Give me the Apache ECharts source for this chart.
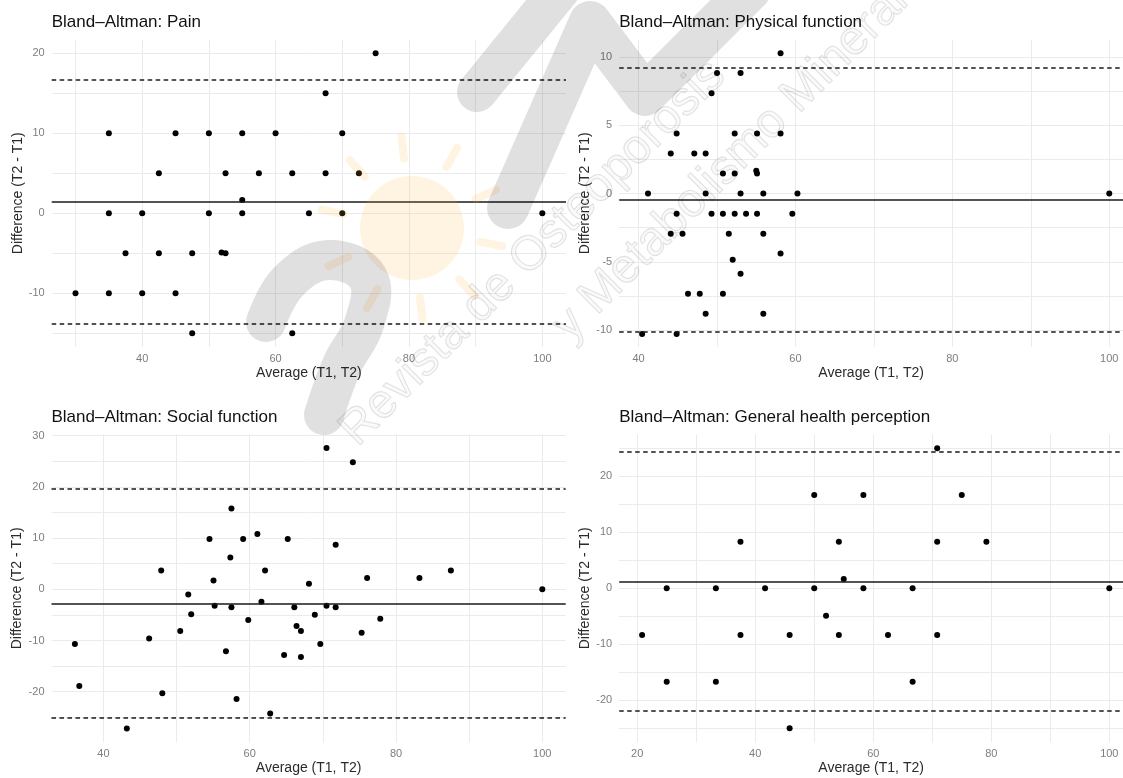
<!DOCTYPE html>
<html>
<head>
<meta charset="utf-8">
<title>Bland–Altman plots</title>
<script src="https://cdn.jsdelivr.net/npm/echarts@6/dist/echarts.min.js"></script>
<style>
  html, body { margin: 0; padding: 0; background: #ffffff; }
  #chart { width: 1123px; height: 778px; }
</style>
</head>
<body>
<div id="chart"></div>
<script>
// ---- Data: average of the two measurements (T1, T2) and their difference (T2 - T1) ----
const panelTitles = [
  'Bland\u2013Altman: Pain',
  'Bland\u2013Altman: Physical function',
  'Bland\u2013Altman: Social function',
  'Bland\u2013Altman: General health perception'
];

const painAvg  = [75, 67.5, 35, 45, 50, 55, 60, 70, 42.5, 52.5, 57.5, 62.5, 67.5, 72.5, 55,
                  35, 40, 50, 55, 65, 70, 100, 37.5, 42.5, 47.5, 51.9, 52.5, 30, 35, 40, 45, 47.5, 62.5];
const painDiff = [20, 15, 10, 10, 10, 10, 10, 10, 5, 5, 5, 5, 5, 5, 1.67,
                  0, 0, 0, 0, 0, 0, 0, -5, -5, -5, -4.9, -5, -10, -10, -10, -10, -15, -15];
// mean difference, upper and lower limits of agreement
const painLines = [1.5, 16.75, -13.75];

const physAvg  = [58.1, 50.0, 53.0, 49.3, 44.85, 52.25, 55.1, 58.1, 44.1, 47.1, 48.55,
                  50.75, 52.25, 55.0, 55.1, 41.2, 48.55, 53.0, 55.9, 60.25, 100,
                  44.85, 49.3, 50.75, 52.25, 53.7, 55.1, 59.6, 44.1, 45.6, 51.5, 55.9,
                  58.1, 52.0, 53.0, 46.3, 47.8, 50.75, 48.55, 55.9, 40.45, 44.85];
const physDiff = [10.3, 8.85, 8.85, 7.35, 4.4, 4.4, 4.4, 4.4, 2.94, 2.94, 2.94,
                  1.47, 1.47, 1.67, 1.47, 0, 0, 0, 0, 0, 0,
                  -1.47, -1.47, -1.47, -1.47, -1.47, -1.47, -1.47, -2.94, -2.94, -2.94, -2.94,
                  -4.4, -4.85, -5.88, -7.35, -7.35, -7.35, -8.82, -8.82, -10.3, -10.3];
const physLines = [-0.45, 9.2, -10.1];

const socialAvg  = [70.5, 74.1, 57.5, 61.05, 54.5, 59.1, 65.2, 71.75, 57.35, 47.9, 62.1, 87.5,
                    55.05, 76.05, 83.2, 68.1, 100, 51.6, 61.6, 55.2, 57.5, 66.1, 70.5, 71.75,
                    52.0, 68.9, 59.8, 77.85, 66.4, 67.0, 50.5, 75.3, 46.25, 36.1, 69.65,
                    56.75, 64.7, 67.0, 36.7, 48.05, 58.2, 62.8, 43.2];
const socialDiff = [27.6, 24.8, 15.8, 10.8, 9.8, 9.8, 9.8, 8.7, 6.2, 3.65, 3.65, 3.65,
                    1.7, 2.2, 2.2, 1.1, 0, -1.0, -2.45, -3.2, -3.5, -3.5, -3.2, -3.5,
                    -4.85, -4.95, -6.0, -5.75, -7.15, -8.15, -8.15, -8.5, -9.6, -10.7, -10.7,
                    -12.1, -12.85, -13.2, -18.9, -20.3, -21.4, -24.25, -27.2];
const socialLines = [-2.74, 19.56, -25.03];

const healthAvg  = [70.83, 50, 58.33, 75, 37.5, 54.17, 70.83, 79.17, 55,
                    25, 33.33, 41.67, 50, 58.33, 66.67, 100, 52,
                    20.83, 37.5, 45.83, 54.17, 62.5, 70.83, 25, 33.33, 66.67, 45.83];
const healthDiff = [25, 16.67, 16.67, 16.67, 8.33, 8.33, 8.33, 8.33, 1.67,
                    0, 0, 0, 0, 0, 0, 0, -4.9,
                    -8.33, -8.33, -8.33, -8.33, -8.33, -8.33, -16.67, -16.67, -16.67, -25];
const healthLines = [1.19, 24.4, -21.85];

// axis ranges: [xMin, xMax, yMin, yMax]
const axisRanges = [
  [26.43, 103.55, -16.71, 21.72],
  [37.53, 101.75, -11.25, 11.3],
  [32.9, 103.2, -29.9, 30.27],
  [16.95, 102.32, -27.52, 27.5]
];
// grid line step and labelled step: [xGrid, xLabel, yGrid, yLabel]
const axisSteps = [
  [10, 20, 5, 10],
  [10, 20, 2.5, 5],
  [10, 20, 5, 10],
  [10, 20, 5, 10]
];

const xName = 'Average (T1, T2)';
const yName = 'Difference (T2 - T1)';

// ---- Layout ----
const FONT = '"Liberation Sans", Arial, Helvetica, sans-serif';
const grids = [
  { left: 51.7,  top: 39.5,  width: 514.3, height: 307.5 },
  { left: 619.2, top: 39.5,  width: 503.8, height: 307.5 },
  { left: 51.5,  top: 434.3, width: 514.2, height: 308.1 },
  { left: 619.2, top: 434.3, width: 503.8, height: 308.1 }
];
const titleTops = [14.3, 14.3, 408.8, 408.8];

const panels = [
  { avg: painAvg,   diff: painDiff,   lines: painLines },
  { avg: physAvg,   diff: physDiff,   lines: physLines },
  { avg: socialAvg, diff: socialDiff, lines: socialLines },
  { avg: healthAvg, diff: healthDiff, lines: healthLines }
];

function labelFormatter(step) {
  return function (v) {
    const r = v / step;
    return Math.abs(r - Math.round(r)) < 1e-6 ? String(Math.round(v * 100) / 100) : '';
  };
}

function makeAxis(gridIndex, min, max, gridStep, labelStep, name, isX) {
  return {
    type: 'value',
    gridIndex: gridIndex,
    min: min,
    max: max,
    minInterval: gridStep,
    maxInterval: gridStep,
    splitNumber: Math.round((max - min) / gridStep),
    axisLine: { show: false },
    axisTick: { show: false },
    splitLine: {
      show: true,
      showMinLine: false,
      showMaxLine: false,
      lineStyle: { color: '#ebebeb', width: 1 }
    },
    axisLabel: {
      show: true,
      margin: isX ? 6 : 7,
      color: '#7d7d7d',
      fontSize: 11,
      fontFamily: FONT,
      formatter: labelFormatter(labelStep)
    },
    name: name,
    nameLocation: 'middle',
    nameGap: isX ? 19 : 27,
    nameTextStyle: { color: '#2b2b2b', fontSize: 14, fontFamily: FONT }
  };
}

const xAxes = [], yAxes = [], series = [];
panels.forEach(function (p, i) {
  const r = axisRanges[i], s = axisSteps[i];
  xAxes.push(makeAxis(i, r[0], r[1], s[0], s[1], xName, true));
  yAxes.push(makeAxis(i, r[2], r[3], s[2], s[3], yName, false));
  series.push({
    type: 'scatter',
    xAxisIndex: i,
    yAxisIndex: i,
    data: p.avg.map(function (a, k) { return [a, p.diff[k]]; }),
    symbol: 'circle',
    symbolSize: 6,
    itemStyle: { color: '#000000', opacity: 1 },
    emphasis: { disabled: true },
    markLine: {
      silent: true,
      symbol: ['none', 'none'],
      label: { show: false },
      animation: false,
      data: [
        { yAxis: p.lines[0], lineStyle: { type: 'solid', color: '#1a1a1a', width: 1.5 } },
        { yAxis: p.lines[1], lineStyle: { type: [4.5, 3.5], color: '#1a1a1a', width: 1.5 } },
        { yAxis: p.lines[2], lineStyle: { type: [4.5, 3.5], color: '#1a1a1a', width: 1.5 } }
      ]
    }
  });
});

// ---- Journal watermark drawn over the figure ----
const GRAY = 'rgba(0,0,0,0.12)';
const SUN = 'rgba(255,176,60,0.15)';
const sunRays = [];
for (let k = 0; k < 10; k++) {
  const a = (k / 10) * Math.PI * 2 + 0.2;
  sunRays.push({
    type: 'line', silent: true, z: 100,
    shape: { x1: 412 + Math.cos(a) * 70, y1: 228 + Math.sin(a) * 70,
             x2: 412 + Math.cos(a) * 92, y2: 228 + Math.sin(a) * 92 },
    style: { stroke: SUN, lineWidth: 8, lineCap: 'round' }
  });
}
const watermark = [
  { type: 'circle', silent: true, z: 100, shape: { cx: 412, cy: 228, r: 52 }, style: { fill: SUN } }
].concat(sunRays).concat([
  { type: 'polyline', silent: true, z: 100,
    shape: { points: [[266, 322], [288, 282], [328, 260], [368, 278], [364, 324], [342, 365], [324, 415]], smooth: 0.4 },
    style: { stroke: GRAY, fill: null, lineWidth: 40, lineCap: 'round', lineJoin: 'round' } },
  { type: 'polyline', silent: true, z: 100,
    shape: { points: [[477, 92], [560, -10]] },
    style: { stroke: GRAY, fill: null, lineWidth: 40, lineCap: 'round' } },
  { type: 'polyline', silent: true, z: 100,
    shape: { points: [[508, 208], [590, 22], [645, 95], [750, -10]] },
    style: { stroke: GRAY, fill: null, lineWidth: 42, lineCap: 'round', lineJoin: 'round' } },
  { type: 'text', silent: true, z: 101, x: 365, y: 455, rotation: Math.PI / 4,
    style: { text: 'Revista de Osteoporosis', fontSize: 48, fontFamily: FONT,
             fill: 'rgba(0,0,0,0.02)', stroke: 'rgba(0,0,0,0.11)', lineWidth: 1.2,
             align: 'left', verticalAlign: 'bottom' } },
  { type: 'text', silent: true, z: 101, x: 578, y: 350, rotation: Math.PI / 4,
    style: { text: 'y Metabolismo Mineral', fontSize: 48, fontFamily: FONT,
             fill: 'rgba(0,0,0,0.02)', stroke: 'rgba(0,0,0,0.11)', lineWidth: 1.2,
             align: 'left', verticalAlign: 'bottom' } }
]);

const chart = echarts.init(document.getElementById('chart'), null, { renderer: 'canvas' });
chart.setOption({
  animation: false,
  backgroundColor: '#ffffff',
  title: panelTitles.map(function (t, i) {
    return {
      text: t, left: grids[i].left, top: titleTops[i], padding: 0,
      textStyle: { fontSize: 17, fontWeight: 'normal', color: '#111111', fontFamily: FONT }
    };
  }),
  grid: grids.map(function (g) { return Object.assign({ containLabel: false, outerBoundsMode: 'none' }, g); }),
  xAxis: xAxes,
  yAxis: yAxes,
  series: series,
  graphic: { elements: watermark }
});
</script>
</body>
</html>
